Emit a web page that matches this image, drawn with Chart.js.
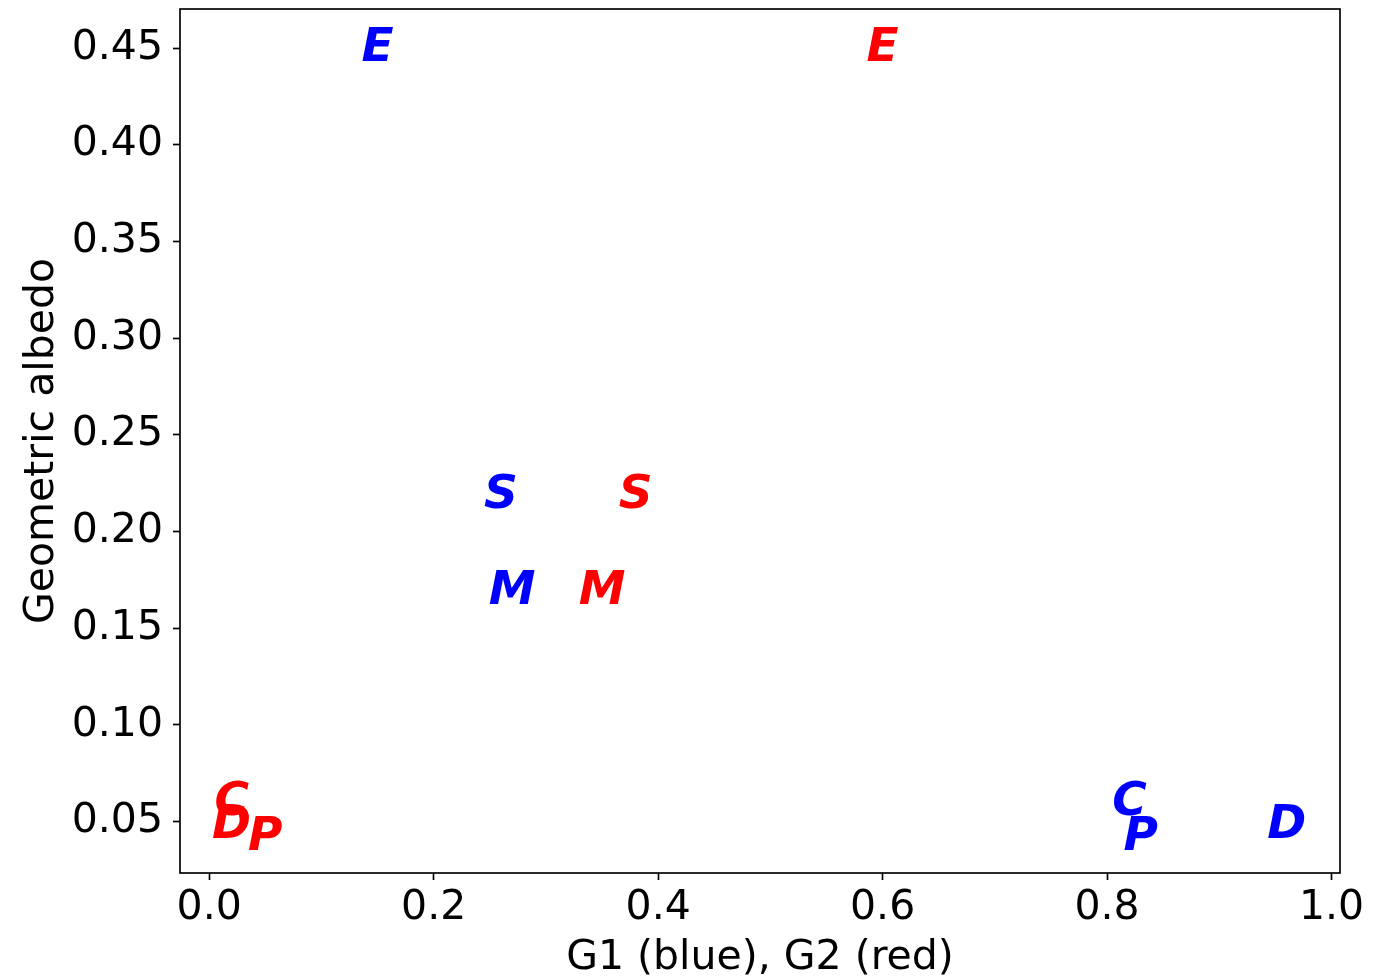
<!DOCTYPE html>
<html><head><meta charset="utf-8">
<script src="https://cdn.jsdelivr.net/npm/chart.js@4/dist/chart.umd.min.js"></script>
<style>html,body{margin:0;padding:0;background:#fff;} #wrap{width:1376px;height:980px;position:relative;}</style>
</head><body><div id="wrap"><canvas id="c" width="1376" height="980"></canvas></div>
<script>
// ---- data ----
const classes = ['E', 'S', 'M', 'C', 'P', 'D'];
const g1Values = [0.15, 0.26, 0.27, 0.82, 0.83, 0.96];
const g2Values = [0.60, 0.38, 0.35, 0.02, 0.05, 0.02];
const albedo = [0.45, 0.219, 0.169, 0.06, 0.042, 0.048];
const xTicks = [0.0, 0.2, 0.4, 0.6, 0.8, 1.0];
const xTickLabels = ['0.0', '0.2', '0.4', '0.6', '0.8', '1.0'];
const yTicks = [0.05, 0.10, 0.15, 0.20, 0.25, 0.30, 0.35, 0.40, 0.45];
const yTickLabels = ['0.05', '0.10', '0.15', '0.20', '0.25', '0.30', '0.35', '0.40', '0.45'];
const xTitle = 'G1 (blue), G2 (red)';
const yTitle = 'Geometric albedo';

const FONT = '"DejaVu Sans", sans-serif';
const LABEL_SIZE = 41;
const LETTER_SIZE = 47;
const LINE_W = 1.67;

const letterPlugin = {
  id: 'letters',
  afterDatasetsDraw(chart) {
    const ctx = chart.ctx;
    chart.data.datasets.forEach((ds, di) => {
      const meta = chart.getDatasetMeta(di);
      ctx.save();
      ctx.font = 'italic bold ' + LETTER_SIZE + 'px ' + FONT;
      ctx.fillStyle = ds.textColor;
      ctx.textAlign = 'center';
      ctx.textBaseline = 'alphabetic';
      meta.data.forEach((pt, i) => {
        ctx.fillText(classes[i], pt.x, pt.y + 0.276 * LETTER_SIZE);
      });
      ctx.restore();
    });
  }
};

const framePlugin = {
  id: 'frame',
  afterDraw(chart) {
    const a = chart.chartArea, ctx = chart.ctx;
    ctx.save();
    ctx.strokeStyle = '#000';
    ctx.lineWidth = LINE_W;
    ctx.strokeRect(a.left, a.top, a.right - a.left, a.bottom - a.top);
    ctx.restore();
  }
};

const bgPlugin = {
  id: 'bg',
  beforeDraw(chart) {
    const ctx = chart.ctx;
    ctx.save();
    ctx.fillStyle = '#fff';
    ctx.fillRect(0, 0, chart.width, chart.height);
    ctx.restore();
  }
};

new Chart(document.getElementById('c'), {
  type: 'scatter',
  data: {
    datasets: [
      { label: 'G1', textColor: '#0000ff', data: g1Values.map((x, i) => ({ x: x, y: albedo[i] })), pointRadius: 0, pointHoverRadius: 0 },
      { label: 'G2', textColor: '#ff0000', data: g2Values.map((x, i) => ({ x: x, y: albedo[i] })), pointRadius: 0, pointHoverRadius: 0 }
    ]
  },
  options: {
    responsive: false,
    animation: false,
    devicePixelRatio: 1,
    layout: { padding: { top: 9, right: 36, left: 0, bottom: 0 } },
    plugins: { legend: { display: false }, tooltip: { enabled: false } },
    scales: {
      x: {
        type: 'linear',
        min: -0.026, max: 1.0075,
        afterBuildTicks: s => { s.ticks = xTicks.map(v => ({ value: v })); },
        afterFit: s => { s.height = 107; s.paddingLeft = 0; s.paddingRight = 0; },
        ticks: { autoSkip: false, maxRotation: 0, padding: 4, color: '#000',
          font: { family: FONT, size: LABEL_SIZE },
          callback: (v, i) => xTickLabels[i] },
        grid: { drawOnChartArea: false, drawTicks: true, tickLength: 7, tickWidth: LINE_W, tickColor: '#000' },
        border: { display: false },
        title: { display: true, text: xTitle, color: '#000', padding: { top: 0, bottom: -3 },
          font: { family: FONT, size: LABEL_SIZE, lineHeight: 1.2 } }
      },
      y: {
        type: 'linear',
        min: 0.0234, max: 0.4702,
        afterBuildTicks: s => { s.ticks = yTicks.map(v => ({ value: v })); },
        afterFit: s => { s.width = 180; s.paddingTop = 0; s.paddingBottom = 0; },
        ticks: { autoSkip: false, padding: 10, color: '#000',
          font: { family: FONT, size: LABEL_SIZE },
          callback: (v, i) => yTickLabels[i] },
        grid: { drawOnChartArea: false, drawTicks: true, tickLength: 7, tickWidth: LINE_W, tickColor: '#000' },
        border: { display: false },
        title: { display: true, text: yTitle, color: '#000', padding: { top: 18, bottom: 0 },
          font: { family: FONT, size: LABEL_SIZE, lineHeight: 1.2 } }
      }
    }
  },
  plugins: [bgPlugin, letterPlugin, framePlugin]
});
</script>
</body></html>
